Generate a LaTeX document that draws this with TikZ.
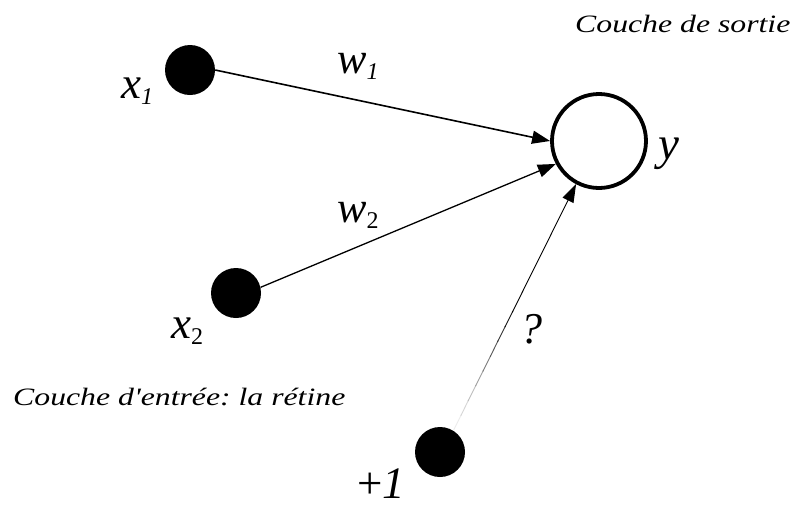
\documentclass[tikz,border=0pt]{standalone}
\usepackage{fontspec}
\setmainfont{Liberation Serif}[Ligatures=TeXOff]
\usetikzlibrary{arrows.meta,calc}
\tikzset{
  disk/.style={circle,fill=black,minimum size=50pt,inner sep=0pt},
  outcirc/.style={circle,draw=black,line width=3.8pt,minimum size=94pt,inner sep=0pt},
  conn/.style={-{Triangle[length=18pt,width=13pt]},line width=1.6pt},
  lab/.style={anchor=base west,inner sep=0pt,font=\fontsize{45}{50}\selectfont\itshape},
  captext/.style={anchor=base west,inner sep=0pt,font=\fontsize{25}{28}\selectfont\itshape},
}
\newcommand{\subsc}[1]{\raisebox{-6pt}{\fontsize{24}{28}\selectfont #1}}
\newcommand{\widetext}[1]{\scalebox{1.27}[1]{#1}}
\begin{document}
\frenchspacing
\begin{tikzpicture}[x=1pt,y=-1pt]
\useasboundingbox (0,0) rectangle (793,507);
\node[disk] (x1) at (190,70) {};
\node[disk] (x2) at (236,293) {};
\node[disk] (b) at (440,452) {};
\node[outcirc] (y) at (599,141) {};
\draw[conn] (x1.east) -- (y.180);
\draw[conn,line width=1.3pt] (x2.13) -- (y.208);
% fading bias connector
\coordinate (bs) at (b.58);
\coordinate (be) at (y.242);
\foreach \i/\cc in {0/8,1/16,2/26,3/38,4/52,5/66,6/80,7/92}{
  \draw[line width=0.9pt,black!\cc] ($(bs)!\i*0.06!(be)$) -- ($(bs)!\i*0.06+0.065!(be)$);
}
\draw[-{Triangle[length=18pt,width=12pt]},line width=0.9pt] ($(bs)!0.48!(be)$) -- (be);
% labels
\node[lab] (lx1) at (121,98) {x\subsc{\itshape 1}};
\node[lab,font=\fontsize{44}{48}\selectfont\itshape] (lw1) at (337,73) {w\subsc{\itshape 1}};
\node[lab,font=\fontsize{44}{48}\selectfont\itshape] (lw2) at (337,222) {w\subsc{\upshape 2}};
\node[lab] (lx2) at (171,338) {x\subsc{\upshape 2}};
\node[lab,font=\fontsize{47}{50}\selectfont\itshape] (ly) at (658,159) {y};
\node[lab,font=\fontsize{44}{48}\selectfont\itshape] (lq) at (520,343) {?};
\node[lab,text depth=0pt,font=\fontsize{45}{50}\selectfont\itshape] (lb) at (357,498) {\upshape +\itshape 1};
\node[captext] (cs) at (575,32) {\widetext{Couche de sortie}};
\node[captext] (ce) at (13,405) {\widetext{Couche d'entrée: la rétine}};
\end{tikzpicture}
\end{document}
